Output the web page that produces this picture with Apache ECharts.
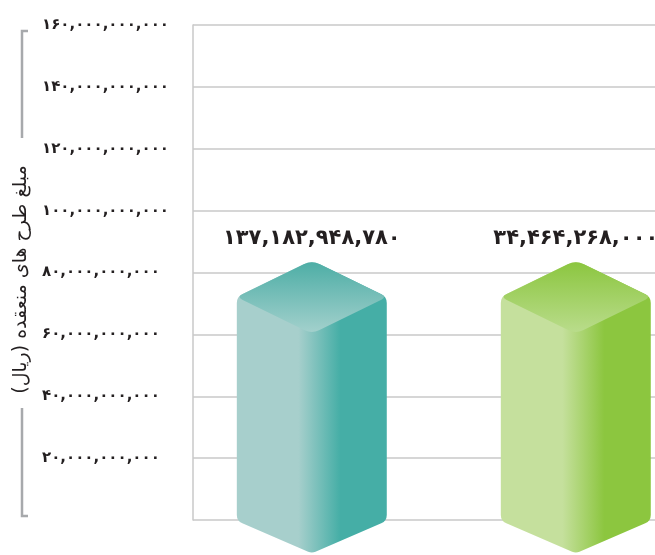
<!DOCTYPE html>
<html>
<head>
<meta charset="utf-8">
<script src="https://cdn.jsdelivr.net/npm/echarts@6/dist/echarts.min.js"></script>
<style>
  html, body { margin: 0; padding: 0; background: #fff; }
  #chart { width: 655px; height: 555px; }
</style>
</head>
<body>
<div id="chart"></div>
<script>
  // one slot per bar on a hidden value axis
  var barSlots = [0, 1]
  // amounts printed above the bars (rial)
  var contractAmounts = [137182948780, 34464268000]
  // height the bars are drawn at in the picture (same for both)
  var barLevels = [72.4e9, 72.4e9]
  var yMin = 0
  var yMax = 160e9
  var yStep = 20e9

  var faDigits = '۰۱۲۳۴۵۶۷۸۹'
  function toFa(n) {
    var s = String(Math.round(n)).replace(/\B(?=(\d{3})+(?!\d))/g, ',')
    return s.replace(/[0-9]/g, function (d) { return faDigits[+d] })
  }

  var palettes = [
    { light: '#a7cfcc', dark: '#45aea6', topA: '#4eaea6', topB: '#a2d0cc' },
    { light: '#c5e09d', dark: '#8cc63f', topA: '#8cc640', topB: '#b9dc8b' }
  ]

  function grad(x, y, x2, y2, stops) {
    return new echarts.graphic.LinearGradient(x, y, x2, y2, stops)
  }

  // path through the points, corner k rounded by r[k]
  function roundedPath(pts, r) {
    var n = pts.length
    var d = ''
    for (var k = 0; k < n; k++) {
      var p0 = pts[(k - 1 + n) % n], p1 = pts[k], p2 = pts[(k + 1) % n]
      var a = unit(p1, p0), b = unit(p1, p2)
      var s = [p1[0] + a[0] * r[k], p1[1] + a[1] * r[k]]
      var e = [p1[0] + b[0] * r[k], p1[1] + b[1] * r[k]]
      d += (k === 0 ? 'M' : 'L') + s[0] + ' ' + s[1] + 'Q' + p1[0] + ' ' + p1[1] + ' ' + e[0] + ' ' + e[1]
    }
    return d + 'Z'
  }
  function unit(p, q) {
    var dx = q[0] - p[0], dy = q[1] - p[1]
    var l = Math.sqrt(dx * dx + dy * dy)
    return [dx / l, dy / l]
  }

  function renderItem(params, api) {
    var i = params.dataIndex
    var p = palettes[i]
    var c = api.coord([api.value(0), api.value(1)])
    var base = api.coord([api.value(0), 0])
    var hw = api.size([1, 0])[0] * 0.284
    var dy = hw * 0.49
    var dv = hw * 0.43
    var cx = c[0], top = c[1] + 1, bot = base[1] + 1
    // whole outline of the box, then the lid on top of it
    var body = [[cx, top - dy], [cx + hw, top], [cx + hw, bot], [cx, bot + dv], [cx - hw, bot], [cx - hw, top]]
    var lid = [[cx, top - dy], [cx + hw, top], [cx, top + dy], [cx - hw, top]]
    return {
      type: 'group',
      children: [{
        type: 'path',
        shape: { pathData: roundedPath(body, [9, 6, 6, 4, 6, 6]) },
        style: {
          fill: grad(0, 0, 1, 0, [
            { offset: 0, color: p.light },
            { offset: 0.41, color: p.light },
            { offset: 0.69, color: p.dark },
            { offset: 1, color: p.dark }
          ])
        }
      }, {
        type: 'path',
        shape: { pathData: roundedPath(lid, [9, 6, 8, 6]) },
        style: {
          fill: grad(0, 0, 0, 1, [
            { offset: 0, color: p.topA },
            { offset: 1, color: p.topB }
          ])
        }
      }, {
        type: 'text',
        style: {
          text: toFa(api.value(2)),
          x: cx,
          y: top - dy - 22,
          align: 'center',
          verticalAlign: 'middle',
          font: 'bold 21px "DejaVu Sans"',
          fill: '#231f20'
        }
      }]
    }
  }

  var chart = echarts.init(document.getElementById('chart'))
  chart.setOption({
    backgroundColor: '#fff',
    animation: false,
    grid: {
      left: 193,
      right: 0,
      top: 25,
      bottom: 35
    },
    xAxis: {
      type: 'value',
      min: -0.45,
      max: 1.3,
      show: false
    },
    yAxis: {
      type: 'value',
      min: yMin,
      max: yMax,
      interval: yStep,
      name: 'مبلغ طرح های منعقده (ریال)',
      nameLocation: 'middle',
      nameRotate: 90,
      nameGap: 162,
      nameTextStyle: {
        fontFamily: 'DejaVu Sans',
        fontSize: 19,
        color: '#231f20',
        padding: [0, 14, 0, 0]
      },
      axisLine: {
        show: true,
        onZero: false,
        lineStyle: { color: '#c8c8c8', width: 1.5 }
      },
      axisTick: { show: false },
      axisLabel: {
        align: 'left',
        margin: 151,
        fontFamily: 'DejaVu Sans',
        fontWeight: 'bold',
        fontSize: 15,
        color: '#231f20',
        formatter: function (v) { return v === 0 ? '' : toFa(v) }
      },
      splitLine: {
        lineStyle: { color: '#c8c8c8', width: 1.5 }
      }
    },
    graphic: [{
      type: 'polyline',
      shape: { points: [[28, 31], [22, 31], [22, 138]] },
      style: { stroke: '#a7a9ac', lineWidth: 2.5, fill: null }
    }, {
      type: 'polyline',
      shape: { points: [[22, 408], [22, 516], [28, 516]] },
      style: { stroke: '#a7a9ac', lineWidth: 2.5, fill: null }
    }],
    series: [{
      type: 'custom',
      renderItem: renderItem,
      clip: false,
      encode: { x: 0, y: 1 },
      data: barSlots.map(function (s, i) {
        return [s, barLevels[i], contractAmounts[i]]
      })
    }]
  })
</script>
</body>
</html>
